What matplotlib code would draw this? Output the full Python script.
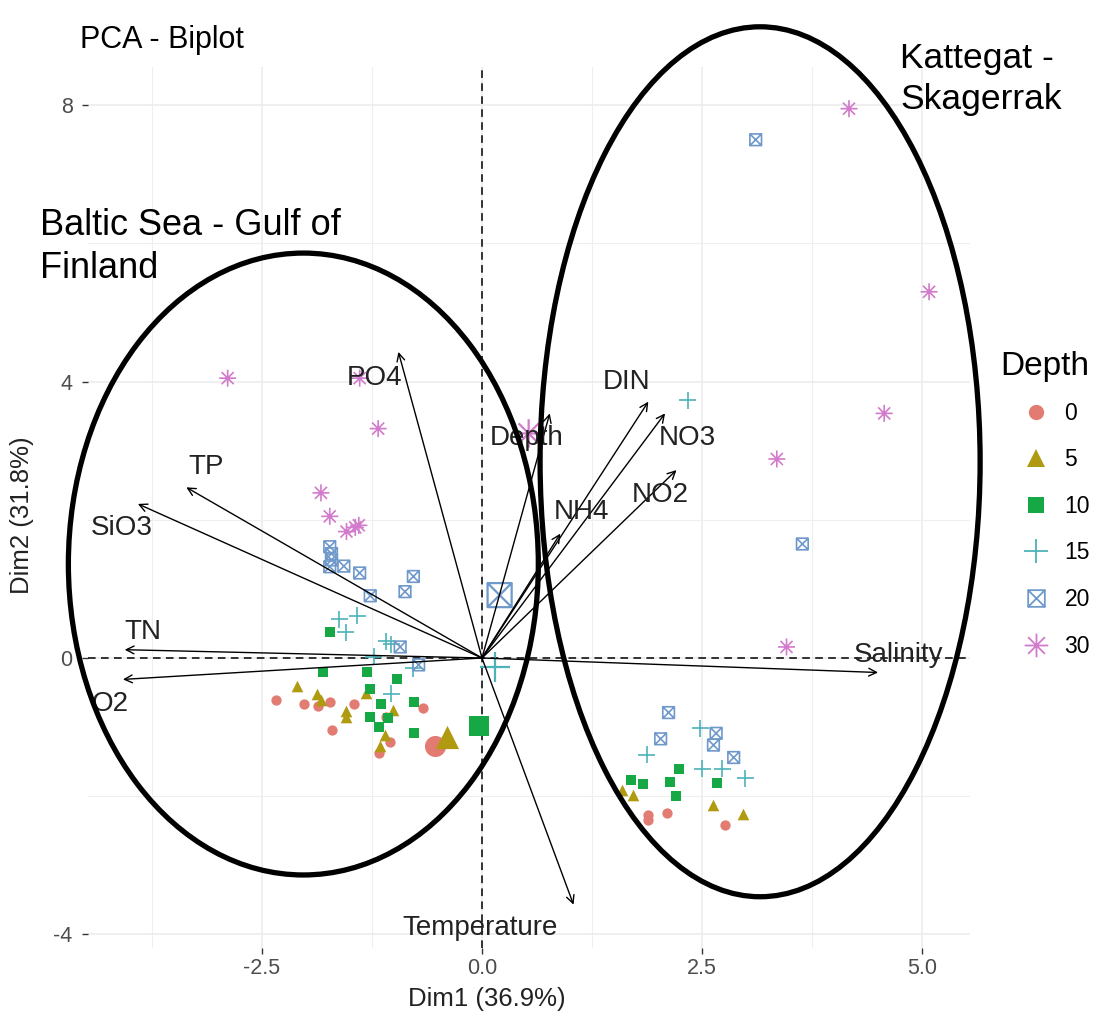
import matplotlib

matplotlib.use("Agg")
import matplotlib.pyplot as plt
from matplotlib.lines import Line2D
from matplotlib.patches import Ellipse
from matplotlib.path import Path

plt.rcParams["font.family"] = ["Liberation Sans", "DejaVu Sans"]
plt.rcParams["axes.unicode_minus"] = False

# ---- data ----
depths = ["0", "5", "10", "15", "20", "30"]
colors = ["#E27B72", "#B09A10", "#17A846", "#4DB3B9", "#6F99CB", "#D27ACB"]

x_d0 = [-2.34, -2.02, -1.86, -1.73, -1.45, -1.70, -1.09, -1.05, -1.17, -0.67, 1.89, 1.89, 2.10, 2.76]
y_d0 = [-0.61, -0.67, -0.69, -0.63, -0.66, -1.04, -0.85, -1.21, -1.37, -0.72, -2.27, -2.35, -2.24, -2.42]

x_d5 = [-2.10, -1.88, -1.83, -1.54, -1.54, -1.32, -1.01, -1.10, -1.16, 1.59, 1.72, 2.62, 2.96]
y_d5 = [-0.41, -0.52, -0.61, -0.76, -0.86, -0.50, -0.75, -1.11, -1.27, -1.91, -1.98, -2.13, -2.26]

x_d10 = [-1.73, -1.81, -1.31, -0.97, -1.27, -1.15, -0.77, -1.27, -1.17, -1.07, -0.77,
         2.24, 1.69, 1.83, 2.14, 2.20, 2.67]
y_d10 = [0.37, -0.20, -0.20, -0.31, -0.45, -0.66, -0.64, -0.85, -1.00, -0.87, -1.08,
         -1.61, -1.76, -1.82, -1.80, -2.00, -1.81]

x_d15 = [-1.62, -1.42, -1.55, -1.09, -1.03, -1.23, -0.78, -1.03, 2.48, 1.87, 2.50, 2.73, 2.99, 2.34]
y_d15 = [0.56, 0.61, 0.37, 0.24, 0.20, 0.02, -0.15, -0.52, -1.02, -1.40, -1.60, -1.60, -1.74, 3.73]

x_d20 = [-1.73, -1.71, -1.71, -1.73, -1.57, -1.39, -0.78, -0.875, -1.27, -0.93, -0.72,
         2.12, 2.03, 2.66, 2.63, 2.86, 3.11, 3.64]
y_d20 = [1.61, 1.51, 1.42, 1.32, 1.33, 1.23, 1.18, 0.96, 0.90, 0.16, -0.10,
         -0.79, -1.17, -1.09, -1.26, -1.44, 7.50, 1.65]

x_d30 = [-2.89, -1.39, -1.18, -1.83, -1.73, -1.54, -1.44, -1.40, 4.17, 5.08, 4.57, 3.35, 3.46]
y_d30 = [4.05, 4.05, 3.32, 2.39, 2.05, 1.83, 1.89, 1.92, 7.95, 5.30, 3.54, 2.88, 0.16]

# group means (larger markers)
cent_x = [-0.53, -0.40, -0.03, 0.15, 0.20, 0.53]
cent_y = [-1.28, -1.14, -0.98, -0.13, 0.91, 3.25]

var_names = ["PO4", "TP", "SiO3", "TN", "O2", "Temperature", "Depth", "DIN", "NO3", "NO2", "NH4", "Salinity"]
var_x = [-0.95, -3.36, -3.91, -4.06, -4.08, 1.04, 0.77, 1.89, 2.08, 2.21, 0.89, 4.50]
var_y = [4.43, 2.47, 2.23, 0.12, -0.31, -3.57, 3.54, 3.71, 3.54, 2.72, 1.80, -0.21]
lab_x = [-1.22, -3.13, -4.09, -3.85, -4.23, -0.02, 0.51, 1.64, 2.33, 2.02, 1.13, 4.73]
lab_y = [4.05, 2.77, 1.88, 0.38, -0.66, -3.91, 3.18, 4.00, 3.18, 2.36, 2.12, 0.04]

# hand-drawn region ellipses (centre x, centre y, width, height) in Dim units
regions = [(-2.03, 1.36, 5.34, 9.00), (3.16, 2.84, 5.00, 12.59)]

# ---- markers: ggplot shapes 16, 17, 15, 3, 7, 8 ----
M, L, C = Path.MOVETO, Path.LINETO, Path.CLOSEPOLY
box_x = Path([(-1, -1), (1, -1), (1, 1), (-1, 1), (-1, -1), (-1, -1), (1, 1), (-1, 1), (1, -1)],
             [M, L, L, L, C, M, L, M, L])
plus = Path([(-1, 0), (1, 0), (0, -1), (0, 1)], [M, L, M, L])
r = 0.7071
asterisk = Path([(-1, 0), (1, 0), (0, -1), (0, 1), (-r, -r), (r, r), (-r, r), (r, -r)],
                [M, L, M, L, M, L, M, L])
markers = ["o", "^", "s", plus, box_x, asterisk]
filled = [True, True, True, False, False, False]
pt_size = [55, 70, 50, 150, 70, 150]
cent_size = [230, 280, 190, 480, 300, 420]

groups_x = [x_d0, x_d5, x_d10, x_d15, x_d20, x_d30]
groups_y = [y_d0, y_d5, y_d10, y_d15, y_d20, y_d30]

W, H = 1115, 1022
fig = plt.figure(figsize=(W / 100, H / 100), dpi=100)
ax = fig.add_axes([88 / W, 1 - 948 / H, 882 / W, 881 / H])
ax.set_xlim(-4.477, 5.545)
ax.set_ylim(-4.197, 8.553)

for s in ax.spines.values():
    s.set_visible(False)
ax.set_xticks([-2.5, 0.0, 2.5, 5.0])
ax.set_xticklabels(["-2.5", "0.0", "2.5", "5.0"])
ax.set_yticks([-4, 0, 4, 8])
ax.set_xticks([-3.75, -1.25, 1.25, 3.75], minor=True)
ax.set_yticks([-2, 2, 6], minor=True)
ax.tick_params(which="major", length=4, width=1, color="#333333", labelcolor="#4D4D4D", labelsize=15.5)
ax.tick_params(axis="y", which="major", pad=7)
ax.tick_params(which="minor", length=0)
ax.grid(which="major", color="#EBEBEB", lw=1.1)
ax.grid(which="minor", color="#EFEFEF", lw=0.8)
ax.set_axisbelow(True)

ax.axhline(0, color="black", lw=1.1, ls=(0, (5, 3.5)), zorder=1)
ax.axvline(0, color="black", lw=1.1, ls=(0, (5, 3.5)), zorder=1)

for i in range(len(depths)):
    fc = colors[i] if filled[i] else "none"
    ax.scatter(groups_x[i], groups_y[i], s=pt_size[i], marker=markers[i], facecolors=fc,
               edgecolors=colors[i], linewidths=0 if filled[i] else 1.2, zorder=3)
    ax.scatter(cent_x[i], cent_y[i], s=cent_size[i], marker=markers[i], facecolors=fc,
               edgecolors=colors[i], linewidths=0 if filled[i] else 1.6, zorder=3)

for name, vx, vy, tx, ty in zip(var_names, var_x, var_y, lab_x, lab_y):
    ax.annotate("", xy=(vx, vy), xytext=(0, 0),
                arrowprops=dict(arrowstyle="->", lw=1.0, color="black", shrinkA=0, shrinkB=0,
                                mutation_scale=14), zorder=4)
    ax.text(tx, ty, name, fontsize=20, color="#222222", ha="center", va="center", zorder=5)

for cx, cy, w, h in regions:
    ax.add_patch(Ellipse((cx, cy), w, h, fill=False, lw=3.8, color="black", clip_on=False, zorder=6))

ax.set_xlabel("Dim1 (36.9%)", fontsize=18.5, color="#222222")
ax.xaxis.set_label_coords((487 - 88) / 882, -(995 - 948) / 881 - 0.005)
ax.xaxis.label.set_va("center")
ax.set_ylabel("Dim2 (31.8%)", fontsize=18.5, color="#222222")
ax.yaxis.set_label_coords(-(88 - 22) / 882, (948 - 515) / 881)
ax.yaxis.label.set_va("center")

fig.text(80 / W, 1 - 40 / H, "PCA - Biplot", fontsize=22, va="center", ha="left")
fig.text(40 / W, 1 - 208 / H, "Baltic Sea - Gulf of\nFinland", fontsize=26, va="top", ha="left",
         linespacing=1.3)
fig.text(900 / W, 1 - 42 / H, "Kattegat -\nSkagerrak", fontsize=25.5, va="top", ha="left",
         linespacing=1.3)

# legend: title drawn separately so the keys sit indented under it, as in ggplot
fig.text(1000 / W, 1 - 366 / H, "Depth", fontsize=24, va="center", ha="left")
handles = []
for i in range(len(depths)):
    fc = colors[i] if filled[i] else "none"
    handles.append(Line2D([], [], ls="none", marker=markers[i], markersize=[11, 13, 11, 17, 12, 17][i],
                          markerfacecolor=fc, markeredgecolor=colors[i],
                          markeredgewidth=0 if filled[i] else 1.3))
leg = fig.legend(handles, depths, loc="upper left",
                 bbox_to_anchor=(998 / W, 1 - 381 / H), frameon=False, fontsize=16.5,
                 labelspacing=1.03, handletextpad=0.5, handlelength=1.5)

fig.savefig("out.png", dpi=100)
